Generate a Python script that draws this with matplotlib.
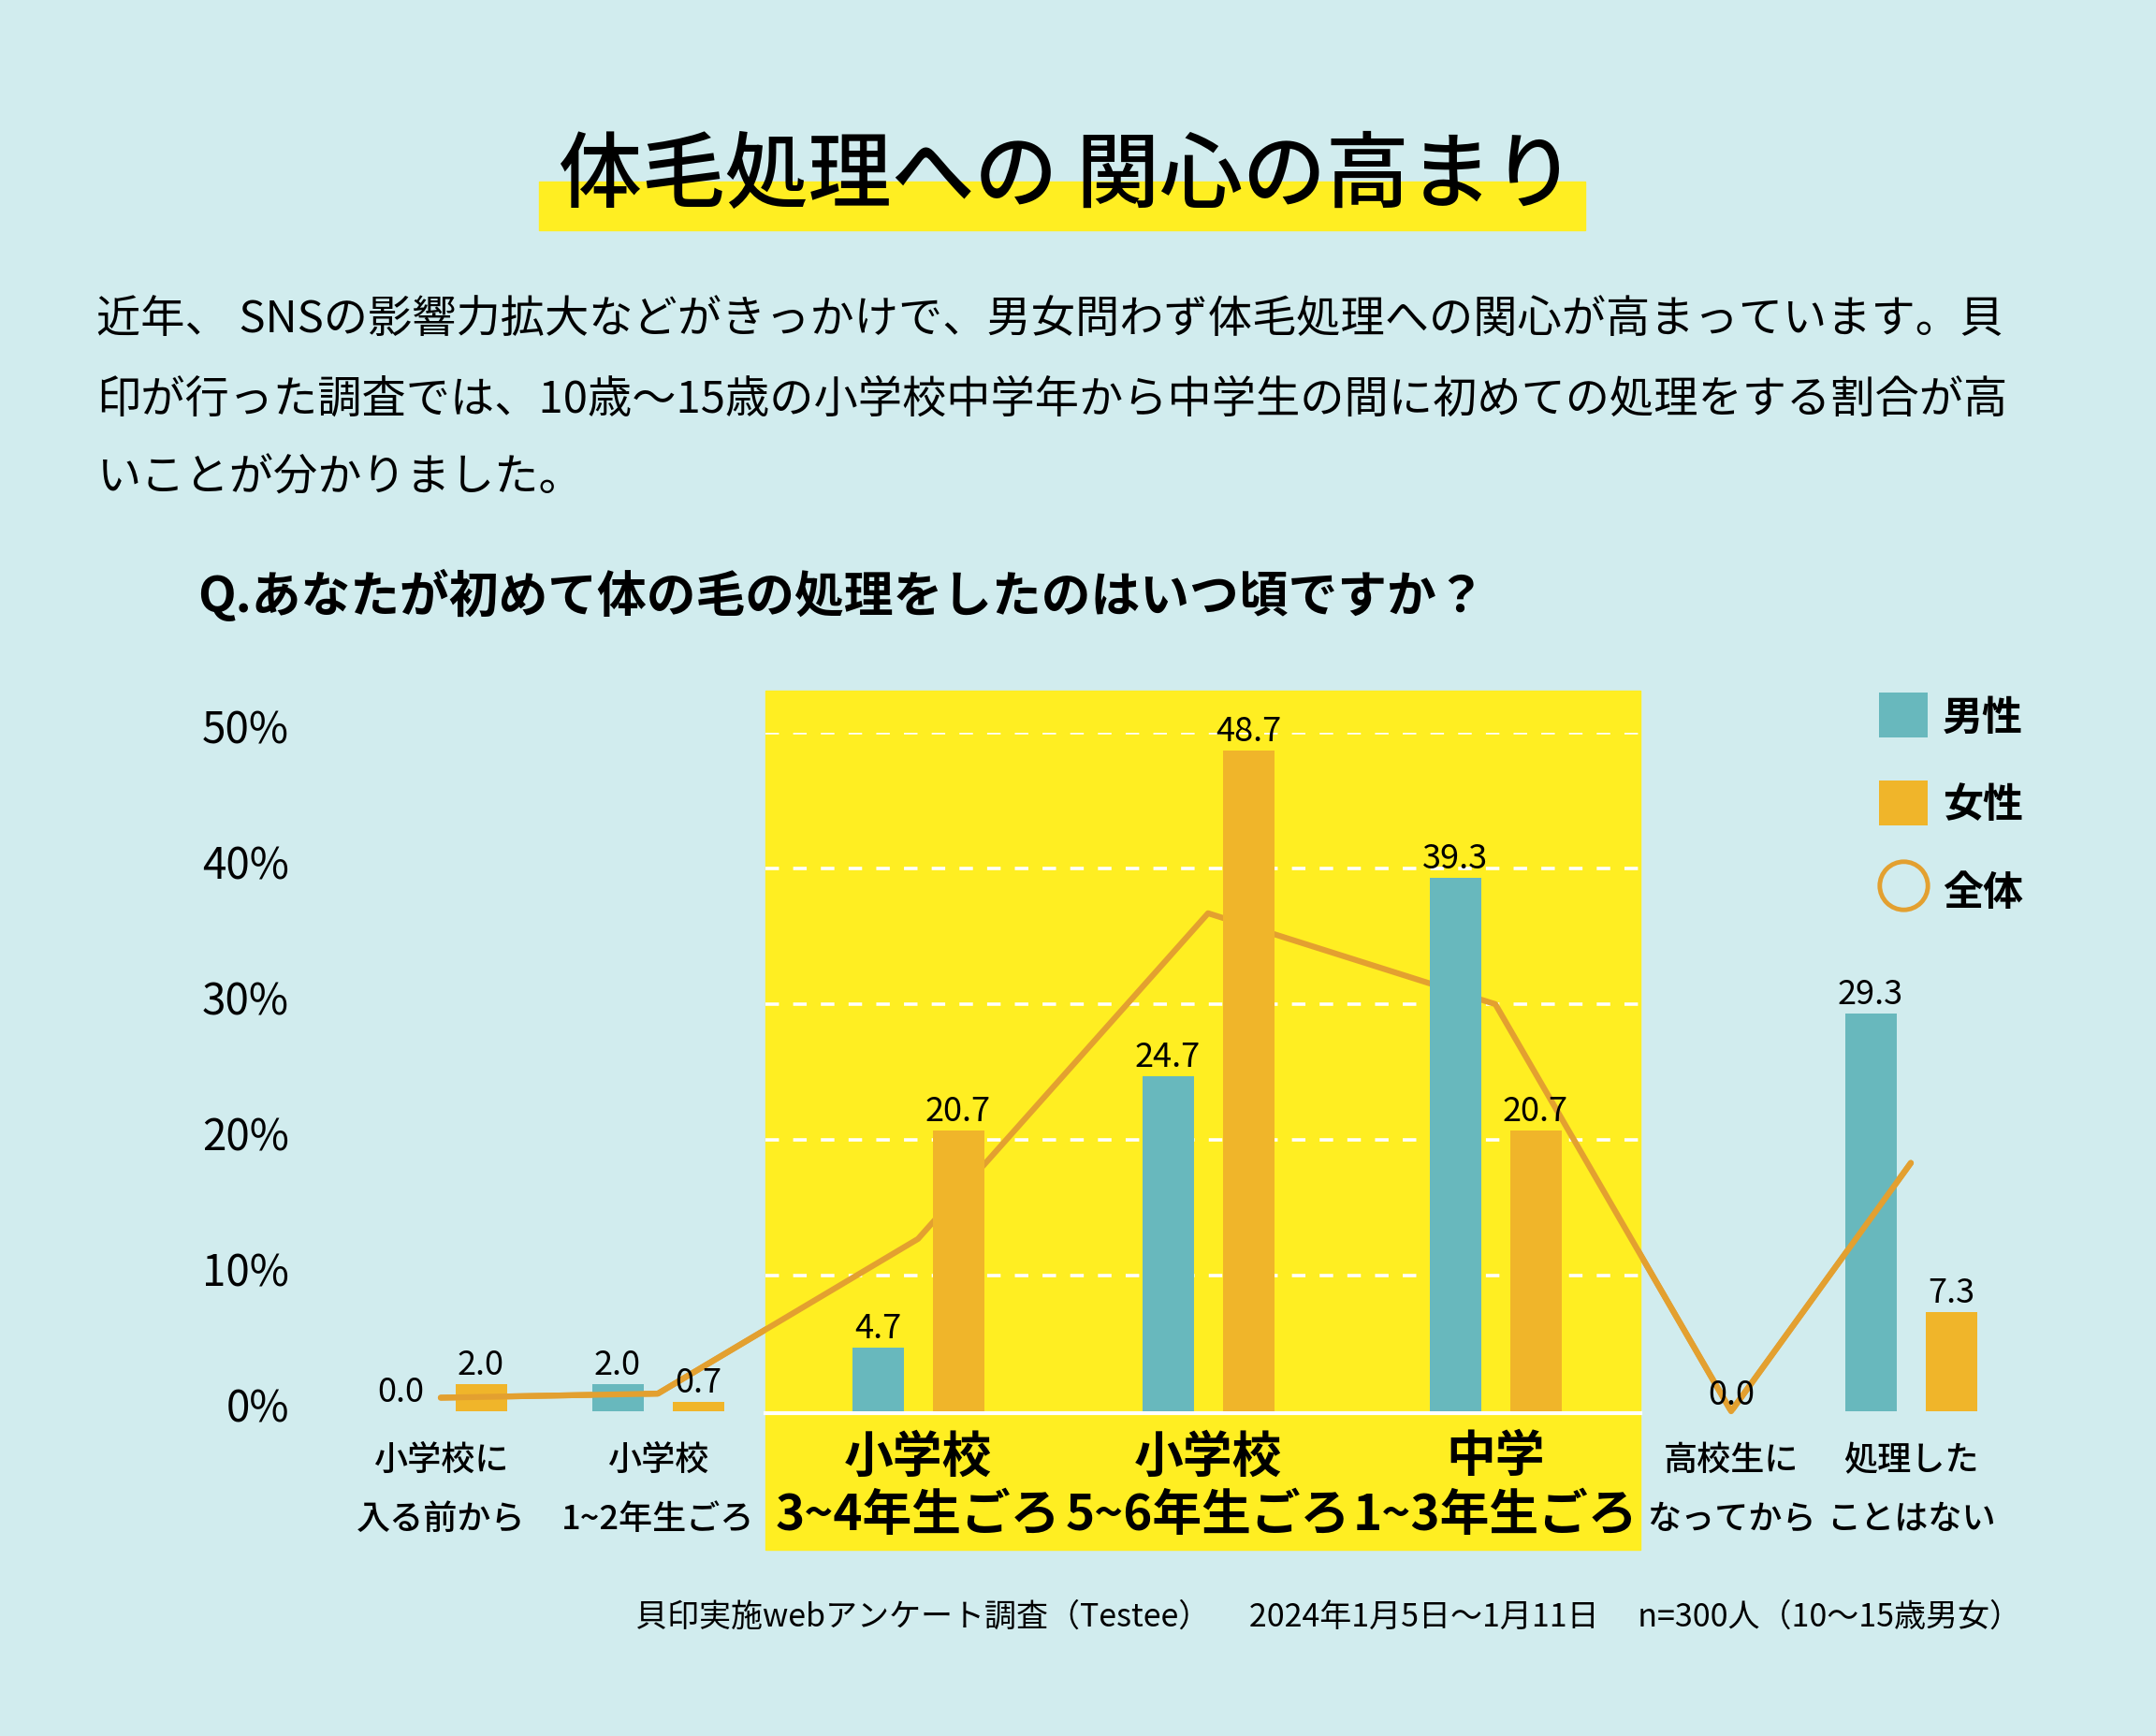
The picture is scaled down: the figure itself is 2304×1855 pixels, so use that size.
import matplotlib
matplotlib.use("Agg")
import matplotlib.pyplot as plt
import matplotlib.transforms as mtransforms
from matplotlib.patches import Rectangle, Patch
from matplotlib.lines import Line2D

plt.rcParams['font.family'] = ['Noto Sans CJK JP', 'DejaVu Sans']

W, H = 2304, 1856

# --- data ---
labels_top = ['小学校に', '小学校', '小学校', '小学校', '中学', '高校生に', '処理した']
labels_bottom = ['入る前から', '1~2年生ごろ', '3~4年生ごろ', '5~6年生ごろ', '1~3年生ごろ', 'なってから', 'ことはない']
male = [0.0, 2.0, 4.7, 24.7, 39.3, 0.0, 29.3]
female = [2.0, 0.7, 20.7, 48.7, 20.7, 0.0, 7.3]
overall = [1.0, 1.3, 12.7, 36.7, 30.0, 0.0, 18.3]
highlight = [2, 3, 4]
yticks = [0, 10, 20, 30, 40, 50]
legend_labels = ['男性', '女性', '全体']

title = '体毛処理への 関心の高まり'
lead = ['近年、 SNSの影響力拡大などがきっかけで、男女問わず体毛処理への関心が高まっています。貝',
        '印が行った調査では、10歳～15歳の小学校中学年から中学生の間に初めての処理をする割合が高',
        'いことが分かりました。']
question = 'Q.あなたが初めて体の毛の処理をしたのはいつ頃ですか？'
source = '貝印実施webアンケート調査（Testee）\u3000 2024年1月5日～1月11日\u3000 n=300人（10～15歳男女）'

BG = '#D1ECEE'
YELLOW = '#FFEE22'
TEAL = '#68B8BD'
ORANGE = '#F0B52A'
LINE = '#E3A030'

# group centres in pixels, the original spaces them unevenly
xpos = [471, 703, 981, 1291, 1598, 1850, 2042]
off, bw = 43, 55
y0, y50 = 1509, 784          # pixel rows of 0% and 50%
ppu = (y0 - y50) / 50.0      # pixels per percent


def fx(px):
    return px / W


def fy(py):
    return 1 - py / H


fig = plt.figure(figsize=(W / 100, H / 100), dpi=100, facecolor=BG)

# title with marker band
fig.add_artist(Rectangle((fx(576), fy(247)), fx(1694) - fx(576), (247 - 195) / H,
                         transform=fig.transFigure, color=YELLOW, zorder=0))
fig.text(fx(1140), fy(190), title, ha='center', va='center', fontsize=64, weight='medium')

for line, py in zip(lead, [342, 427, 511]):
    fig.text(fx(103), fy(py), line, ha='left', va='center', fontsize=34)

fig.text(fx(211), fy(637), question, ha='left', va='center', fontsize=38, weight='bold')

# chart
ax = fig.add_axes([fx(320), fy(y0), 1 - fx(320), (y0 - y50) / H])
ax.set_xlim(320, W)
ax.set_ylim(0, 50)
ax.patch.set_alpha(0)
for s in ax.spines.values():
    s.set_visible(False)
ax.set_xticks([])
ax.set_yticks(yticks)
ax.set_yticklabels([f'{t}%' for t in yticks], fontsize=33)
ax.tick_params(axis='y', length=0, pad=8)
shift = mtransforms.ScaledTranslation(0, 0.08, fig.dpi_scale_trans)
for lab in ax.get_yticklabels():
    lab.set_transform(lab.get_transform() + shift)

# highlighted period
bx0, bx1 = 818, 1753
btop, bbot = (y0 - 739) / ppu, (y0 - 1657) / ppu
ax.add_patch(Rectangle((bx0, bbot), bx1 - bx0, btop - bbot, color=YELLOW, zorder=0, clip_on=False))
for t in yticks[1:]:
    ax.plot([bx0, bx1], [t, t], color='white', lw=2.6, dashes=(4.0, 4.2), zorder=1)
ax.plot([bx0, bx1], [-0.15, -0.15], color='white', lw=3, zorder=1, clip_on=False)

ax.bar([x - off for x in xpos], male, bw, color=TEAL, zorder=3)
ax.bar([x + off for x in xpos], female, bw, color=ORANGE, zorder=3)

# overall line: behind the bars inside the yellow block, on top outside it
ax.plot(xpos, overall, color=LINE, lw=4.5, zorder=2, solid_capstyle='round')
for cx0, cx1 in ((0, bx0), (bx1, W)):
    ln, = ax.plot(xpos, overall, color=LINE, lw=4.5, zorder=4, solid_capstyle='round')
    ln.set_clip_path(Rectangle((cx0, -20), cx1 - cx0, 90, transform=ax.transData))

for i, x in enumerate(xpos):
    if male[i] == 0 and female[i] == 0:
        ax.annotate('0.0', (x, 0), xytext=(0, 0), textcoords='offset points',
                    ha='center', va='bottom', fontsize=26, zorder=5)
        continue
    for v, xx in ((male[i], x - off), (female[i], x + off)):
        ax.annotate(f'{v:.1f}', (xx, v), xytext=(0, 2), textcoords='offset points',
                    ha='center', va='bottom', fontsize=26, zorder=5)

for i, x in enumerate(xpos):
    big = i in highlight
    fs = 38 if big else 26
    wt = 'bold' if big else 'medium'
    ax.text(x, (y0 - (1557 if big else 1561)) / ppu, labels_top[i], ha='center', va='center',
            fontsize=fs, weight=wt)
    ax.text(x, (y0 - (1620 if big else 1624)) / ppu, labels_bottom[i], ha='center', va='center',
            fontsize=fs, weight=wt)

handles = [Patch(facecolor=TEAL), Patch(facecolor=ORANGE),
           Line2D([], [], ls='none', marker='o', ms=37, mfc='none', mec=LINE, mew=3.5)]
fig.legend(handles, legend_labels, loc='upper left', bbox_to_anchor=(fx(2008), fy(741)),
           frameon=False, prop={'size': 31, 'weight': 'bold'}, handlelength=1.2, handleheight=1.35,
           labelspacing=1.05, handletextpad=0.38, borderaxespad=0, borderpad=0)

fig.text(fx(2160), fy(1728), source, ha='right', va='center', fontsize=24.5)

fig.savefig('out.png', dpi=100, facecolor=BG)
